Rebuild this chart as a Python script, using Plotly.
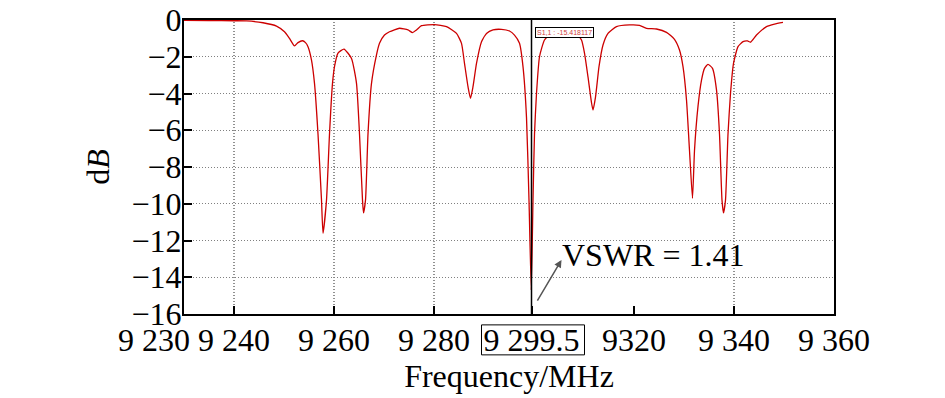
import plotly.graph_objects as go

# Frequency (MHz) and S11 (dB)
freq = [9230, 9235, 9240, 9242.5, 9245.8, 9248.5, 9250.1, 9251.1, 9252.1, 9252.8, 9253.7, 9254.3,
        9254.8, 9255.5, 9256.1, 9256.8, 9257.5, 9257.8, 9258.5, 9259.1, 9259.7, 9260.1, 9260.8, 9262.0,
        9263.5, 9264.5, 9265.1, 9265.7, 9265.9, 9266.3, 9266.8, 9267.5, 9268.5, 9269.1, 9270.1, 9271.1,
        9273.1, 9274.8, 9275.7, 9276.5, 9277.5, 9280.1, 9282.5, 9284.5, 9285.5, 9286.1, 9286.8, 9287.3,
        9287.8, 9288.5, 9289.5, 9290.5, 9291.8, 9293.5, 9295.1, 9296.1, 9297.1, 9297.8, 9298.5, 9299.0,
        9299.45, 9299.8, 9300.1, 9300.5, 9301.1, 9302.1, 9303.8, 9305.5, 9307.5, 9308.7, 9309.5, 9310.1,
        9310.8, 9311.5, 9311.8, 9312.3, 9313.0, 9313.8, 9314.8, 9316.5, 9319.1, 9321.1, 9322.5, 9324.5,
        9326.5, 9328.1, 9329.1, 9329.8, 9330.5, 9331.1, 9331.7, 9332.1, 9332.8, 9333.5, 9334.1, 9334.8,
        9335.7, 9336.5, 9337.1, 9337.6, 9337.9, 9338.3, 9338.8, 9339.3, 9339.9, 9340.8, 9341.8, 9342.7,
        9343.3, 9344.5, 9346.5, 9348.1, 9349.8]
s11_db = [-0.02, -0.03, -0.04, -0.05, -0.15, -0.33, -0.64, -1.0, -1.41, -1.23, -1.13, -1.23,
          -1.45, -2.18, -3.45, -6.2, -9.8, -11.6, -9.8, -6.2, -3.45, -2.54, -1.8, -1.58,
          -2.09, -3.45, -6.2, -9.8, -10.5, -9.8, -6.2, -3.45, -1.9, -1.27, -0.82, -0.64,
          -0.45, -0.54, -0.69, -0.54, -0.31, -0.25, -0.36, -0.73, -1.27, -2.36, -3.63, -4.26,
          -3.63, -2.36, -1.18, -0.73, -0.54, -0.51, -0.6, -0.82, -1.27, -2.54, -5.3, -9.8,
          -14.7, -9.8, -6.2, -4.0, -2.0, -1.09, -0.64, -0.5, -0.55, -0.8, -1.09, -1.8,
          -3.1, -4.5, -4.9, -4.2, -2.54, -1.36, -0.73, -0.36, -0.27, -0.29, -0.45, -0.49,
          -0.67, -1.05, -1.63, -2.54, -4.35, -7.1, -9.7, -7.1, -4.7, -3.27, -2.63, -2.41,
          -2.63, -3.8, -6.2, -9.8, -10.5, -9.8, -6.2, -4.0, -2.36, -1.45, -1.18, -1.14,
          -1.21, -0.82, -0.36, -0.22, -0.13]

x_tick_vals = [9230, 9240, 9260, 9280, 9299.5, 9320, 9340, 9360]
x_tick_text = ["", "9 240", "9 260", "9 280", "9 299.5", "9320", "9 340", "9 360"]
y_tick_vals = [0, -2, -4, -6, -8, -10, -12, -14, -16]
v_grid = [9240, 9260, 9280, 9340]
marker_freq = 9299.5
marker_text = "S1,1 : -15.418117"
vswr_text = "VSWR = 1.41"

FONT = "Liberation Serif, Times New Roman, serif"

fig = go.Figure()
fig.add_trace(go.Scatter(x=freq, y=s11_db, mode="lines",
                         line=dict(color="#cc0000", width=1.3, shape="spline", smoothing=0.5),
                         showlegend=False, hoverinfo="skip"))

for g in v_grid:
    fig.add_shape(type="line", xref="x", yref="paper", x0=g, x1=g, y0=0, y1=1,
                  line=dict(color="#222222", width=1, dash="1px,2px"), layer="below")

fig.add_shape(type="line", xref="x", yref="paper", x0=marker_freq, x1=marker_freq, y0=0, y1=1,
              line=dict(color="black", width=1.5))

# box around the 9 299.5 tick label
fig.add_shape(type="rect", xref="x", yref="paper", x0=9289.5, x1=9310.1, y0=-0.139, y1=-0.037,
              line=dict(color="black", width=1), fillcolor="rgba(0,0,0,0)")

fig.update_layout(
    width=945, height=398,
    margin=dict(l=176, r=119, t=12, b=92, autoexpand=False),
    paper_bgcolor="white", plot_bgcolor="white",
    font=dict(family=FONT, size=32, color="black"),
    xaxis=dict(range=[9230, 9360], tickvals=x_tick_vals, ticktext=x_tick_text,
               ticks="inside", ticklen=8, tickwidth=2, tickcolor="black",
               showline=True, linecolor="black", linewidth=2, mirror=True,
               showgrid=False, zeroline=False, automargin=False,
               ticklabelstandoff=-3, ticklabeloverflow="allow",
               title=dict(text="Frequency/MHz", font=dict(size=32), standoff=0),
               tickfont=dict(size=32)),
    yaxis=dict(range=[-16, 0], tickvals=y_tick_vals,
               ticks="inside", ticklen=8, tickwidth=2, tickcolor="black",
               showline=True, linecolor="black", linewidth=2, mirror=True,
               showgrid=True, gridcolor="#808080", griddash="1px,2px", gridwidth=1,
               zeroline=False, automargin=False,
               ticklabelstandoff=-6, ticklabeloverflow="allow",
               title=dict(text="d<i>B</i>", font=dict(size=32), standoff=12),
               tickfont=dict(size=32)),
)

# 9 230 label shifted left
fig.add_annotation(x=9230, y=0, xref="x", yref="paper", yanchor="top", xanchor="right",
                   xshift=8, yshift=-6, text="9 230", showarrow=False,
                   font=dict(family=FONT, size=32))

# marker readout box
fig.add_annotation(x=marker_freq, y=1, xref="x", yref="paper", xanchor="left", yanchor="top",
                   xshift=3, yshift=-7, text=marker_text, showarrow=False,
                   bgcolor="white", bordercolor="black", borderwidth=1, borderpad=1,
                   font=dict(family="Liberation Sans, Arial", size=7, color="#d04040"))

# VSWR arrow and text
fig.add_annotation(x=9305.5, y=-13.06, ax=9300.5, ay=-15.35, xref="x", yref="y",
                   axref="x", ayref="y", text="", showarrow=True,
                   arrowhead=2, arrowsize=1, arrowwidth=1.5, arrowcolor="#555555")
fig.add_annotation(x=9305.1, y=-12.8, xref="x", yref="y", xanchor="left", yanchor="middle",
                   text=vswr_text, showarrow=False, font=dict(family=FONT, size=32))

fig.write_html("out.html")
